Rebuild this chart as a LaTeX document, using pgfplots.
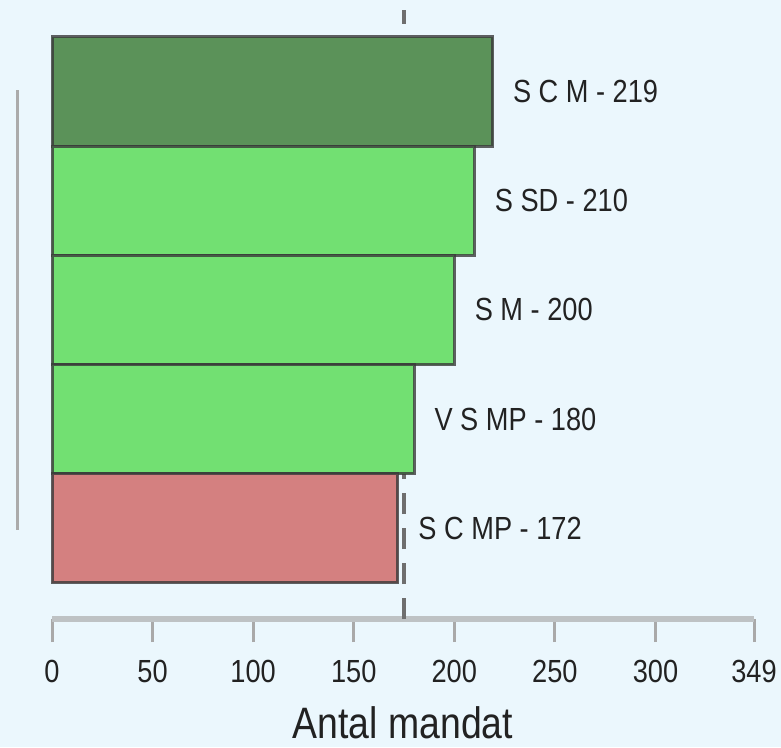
\documentclass[border=0pt]{standalone}
\usepackage{fontspec}
\setmainfont{Liberation Sans}[FakeStretch=0.85]
\usepackage{pgfplots}
\pgfplotsset{compat=1.18}
\definecolor{bg}{HTML}{EBF7FD}
\definecolor{dkgreen}{HTML}{5B9259}
\definecolor{ltgreen}{HTML}{72E072}
\definecolor{redbar}{HTML}{D48080}
\definecolor{edge}{HTML}{3A3A3A}
\definecolor{axisgray}{HTML}{BEC2C4}
\definecolor{tickgray}{HTML}{A9A9A9}
\definecolor{dashgray}{HTML}{6E6E6E}
\definecolor{leftgray}{HTML}{ABABAB}
\definecolor{txt}{HTML}{222222}
\begin{document}
\begin{tikzpicture}
\fill[bg] (-52pt,-128pt) rectangle (729pt,619pt);
\begin{axis}[
  at={(0,0)}, anchor=south west,
  scale only axis, width=702pt, height=609pt,
  xmin=0, xmax=349, ymin=-0.83, ymax=4.747,
  axis y line=none, axis x line*=bottom,
  x axis line style={draw=axisgray, line width=6pt, -},
  xtick={0,50,100,150,200,250,300,349},
  tick align=outside, major tick length=23pt,
  xtick style={draw=tickgray, line width=3pt},
  /pgf/number format/assume math mode=true,
  xticklabel style={font=\fontsize{32}{38}\selectfont, text=txt, anchor=base, yshift=-40pt},
  xlabel={Antal mandat},
  xlabel style={font=\fontsize{44}{52}\selectfont, text=txt, at={(axis description cs:0.5,0)}, anchor=base, yshift=-119pt},
  clip=false,
  every node near coord/.append style={anchor=west, inner sep=0pt, xshift=19pt, font=\fontsize{32}{38}\selectfont, text=txt},
  barstyle/.style={xbar, bar width=1, bar shift=0pt, draw=edge, draw opacity=0.8, line width=3pt, point meta=explicit symbolic, nodes near coords},
]
\addplot[dashgray, line width=4.5pt, dash pattern=on 21pt off 14pt, forget plot] coordinates {(175,-0.83) (175,4.747)};
\addplot[barstyle, fill=dkgreen] coordinates {(219,4) [S C M - 219]};
\addplot[barstyle, fill=ltgreen] coordinates {(210,3) [S SD - 210]};
\addplot[barstyle, fill=ltgreen] coordinates {(200,2) [S M - 200]};
\addplot[barstyle, fill=ltgreen] coordinates {(180,1) [V S MP - 180]};
\addplot[barstyle, fill=redbar] coordinates {(172,0) [S C MP - 172]};
\draw[line width=3pt, leftgray] (axis cs:-17.4,4.014) -- (axis cs:-17.4,-0.015);
\end{axis}
\end{tikzpicture}
\end{document}
